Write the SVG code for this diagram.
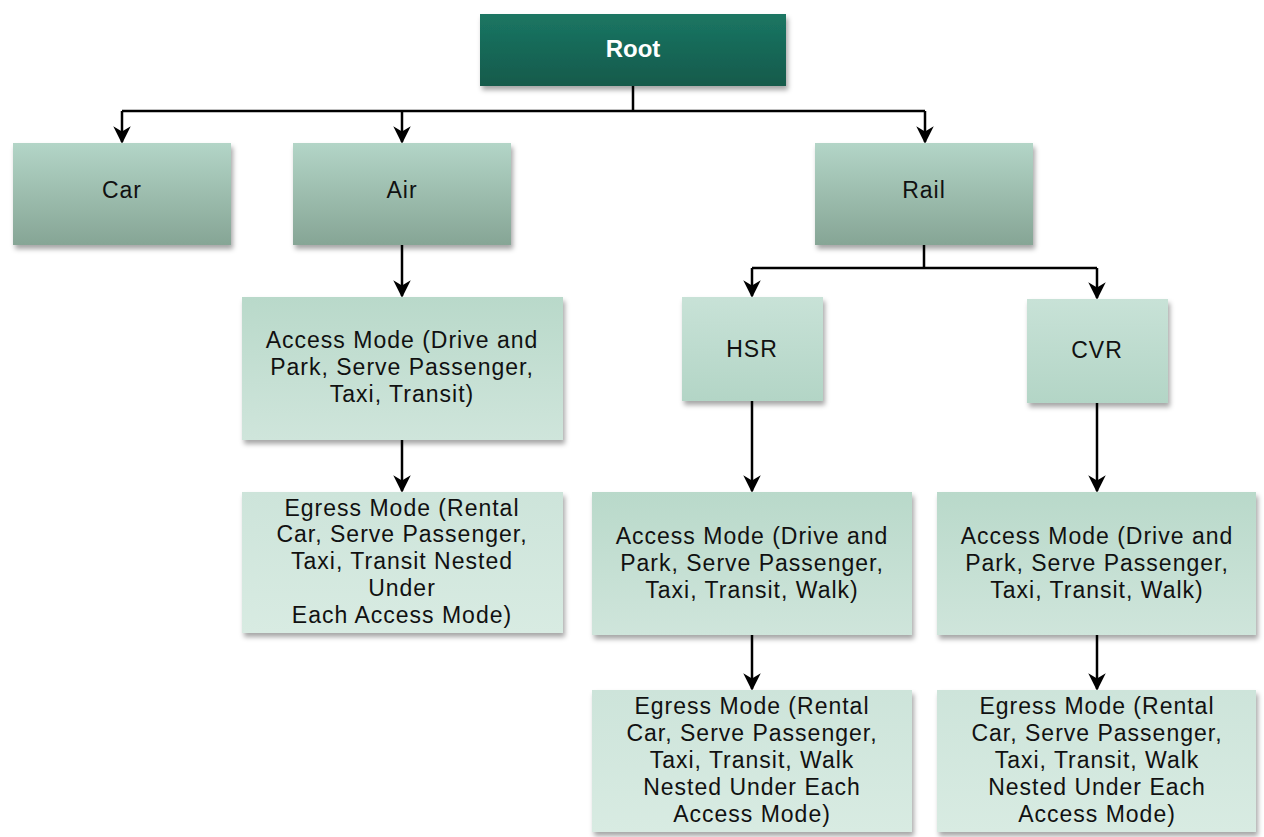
<svg xmlns="http://www.w3.org/2000/svg" width="1264" height="837" viewBox="0 0 1264 837">
<style>
.t{font-family:"Liberation Sans",Arial,sans-serif;font-size:23px;fill:#111;text-anchor:middle;letter-spacing:1px}
.r{font-family:"Liberation Sans",Arial,sans-serif;font-size:24px;font-weight:bold;fill:#fff;text-anchor:middle}
.c{fill:none;stroke:#000;stroke-width:2.5}
</style>
<defs>
<linearGradient id="gRoot" x1="0" y1="0" x2="0" y2="1"><stop offset="0" stop-color="#1b7663"/><stop offset="1" stop-color="#135a4b"/></linearGradient>
<linearGradient id="gTop" x1="0" y1="0" x2="0" y2="1"><stop offset="0" stop-color="#b3d5c7"/><stop offset="1" stop-color="#86a595"/></linearGradient>
<linearGradient id="gMid" x1="0" y1="0" x2="0" y2="1"><stop offset="0" stop-color="#c8e2d7"/><stop offset="1" stop-color="#b3d5c6"/></linearGradient>
<linearGradient id="gAcc" x1="0" y1="0" x2="0" y2="1"><stop offset="0" stop-color="#b9d9ca"/><stop offset="1" stop-color="#cfe5db"/></linearGradient>
<linearGradient id="gEg" x1="0" y1="0" x2="0" y2="1"><stop offset="0" stop-color="#cde4da"/><stop offset="1" stop-color="#d8ebe2"/></linearGradient>
<filter id="sh" x="-10%" y="-10%" width="125%" height="130%"><feDropShadow dx="2" dy="4" stdDeviation="2.5" flood-color="#000" flood-opacity="0.35"/></filter>
<marker id="ah" viewBox="0 0 10 10" refX="9" refY="5" markerWidth="7" markerHeight="7" markerUnits="strokeWidth" orient="auto"><path d="M0,0 L10,5 L0,10 L3,5 z" fill="#000"/></marker>
</defs>
<g id="connectors">
<path class="c" d="M633,86 V111 M122,111 H925"/>
<path class="c" d="M122,111 V142" marker-end="url(#ah)"/>
<path class="c" d="M402,111 V142" marker-end="url(#ah)"/>
<path class="c" d="M925,111 V142" marker-end="url(#ah)"/>
<path class="c" d="M402,245 V296" marker-end="url(#ah)"/>
<path class="c" d="M402,440 V491" marker-end="url(#ah)"/>
<path class="c" d="M924,245 V268 M752,268 H1097"/>
<path class="c" d="M752,268 V296" marker-end="url(#ah)"/>
<path class="c" d="M1097,268 V298" marker-end="url(#ah)"/>
<path class="c" d="M752,401 V491" marker-end="url(#ah)"/>
<path class="c" d="M1097,403 V491" marker-end="url(#ah)"/>
<path class="c" d="M752,635 V689" marker-end="url(#ah)"/>
<path class="c" d="M1097,635 V689" marker-end="url(#ah)"/>
</g>
<g id="root"><rect x="480" y="14" width="306" height="72" fill="url(#gRoot)" filter="url(#sh)"/><text class="r" x="633" y="57">Root</text></g>
<g id="car"><rect x="13" y="143" width="218" height="102" fill="url(#gTop)" filter="url(#sh)"/><text class="t" x="122" y="198">Car</text></g>
<g id="air"><rect x="293" y="143" width="218" height="102" fill="url(#gTop)" filter="url(#sh)"/><text class="t" x="402" y="198">Air</text></g>
<g id="rail"><rect x="815" y="143" width="218" height="102" fill="url(#gTop)" filter="url(#sh)"/><text class="t" x="924" y="198">Rail</text></g>
<g id="air-access"><rect x="242" y="297" width="321" height="143" fill="url(#gAcc)" filter="url(#sh)"/>
<text class="t" x="402" y="348">Access Mode (Drive and</text><text class="t" x="402" y="375">Park, Serve Passenger,</text><text class="t" x="402" y="402">Taxi, Transit)</text></g>
<g id="air-egress"><rect x="242" y="492" width="321" height="141" fill="url(#gEg)" filter="url(#sh)"/>
<text class="t" x="402" y="516">Egress Mode (Rental</text><text class="t" x="402" y="542">Car, Serve Passenger,</text><text class="t" x="402" y="569">Taxi, Transit Nested</text><text class="t" x="402" y="596">Under</text><text class="t" x="402" y="623">Each Access Mode)</text></g>
<g id="hsr"><rect x="682" y="297" width="141" height="104" fill="url(#gMid)" filter="url(#sh)"/><text class="t" x="752" y="357">HSR</text></g>
<g id="cvr"><rect x="1027" y="299" width="141" height="104" fill="url(#gMid)" filter="url(#sh)"/><text class="t" x="1097" y="358">CVR</text></g>
<g id="hsr-access"><rect x="592" y="492" width="320" height="143" fill="url(#gAcc)" filter="url(#sh)"/>
<text class="t" x="752" y="544">Access Mode (Drive and</text><text class="t" x="752" y="571">Park, Serve Passenger,</text><text class="t" x="752" y="598">Taxi, Transit, Walk)</text></g>
<g id="cvr-access"><rect x="937" y="492" width="319" height="143" fill="url(#gAcc)" filter="url(#sh)"/>
<text class="t" x="1097" y="544">Access Mode (Drive and</text><text class="t" x="1097" y="571">Park, Serve Passenger,</text><text class="t" x="1097" y="598">Taxi, Transit, Walk)</text></g>
<g id="hsr-egress"><rect x="592" y="690" width="320" height="142" fill="url(#gEg)" filter="url(#sh)"/>
<text class="t" x="752" y="714">Egress Mode (Rental</text><text class="t" x="752" y="741">Car, Serve Passenger,</text><text class="t" x="752" y="768">Taxi, Transit, Walk</text><text class="t" x="752" y="795">Nested Under Each</text><text class="t" x="752" y="822">Access Mode)</text></g>
<g id="cvr-egress"><rect x="937" y="690" width="319" height="142" fill="url(#gEg)" filter="url(#sh)"/>
<text class="t" x="1097" y="714">Egress Mode (Rental</text><text class="t" x="1097" y="741">Car, Serve Passenger,</text><text class="t" x="1097" y="768">Taxi, Transit, Walk</text><text class="t" x="1097" y="795">Nested Under Each</text><text class="t" x="1097" y="822">Access Mode)</text></g>
</svg>
